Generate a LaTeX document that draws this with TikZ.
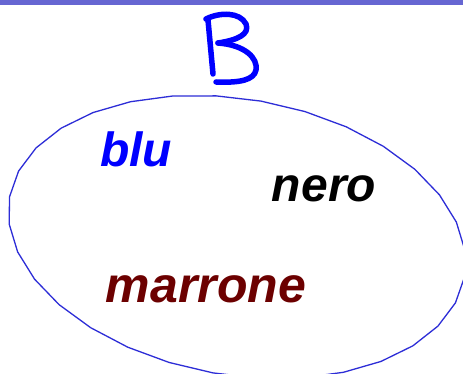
\documentclass[tikz,border=0pt]{standalone}
\usepackage{fontspec}
\setmainfont{Liberation Sans}
\definecolor{barcol}{RGB}{102,102,210}
\definecolor{ellcol}{RGB}{45,45,215}
\definecolor{marcol}{RGB}{108,0,0}
\definecolor{bluecol}{RGB}{0,0,255}
\tikzset{
  word/.style={font=\fontsize{48}{48}\selectfont\bfseries\itshape, inner sep=0pt, anchor=base},
  bstroke/.style={draw=bluecol, line width=5.5pt, line cap=round, line join=round},
  setline/.style={draw=ellcol, line width=1.3pt, line join=round}
}
\begin{document}
\begin{tikzpicture}[x=1pt,y=-1pt]
\useasboundingbox (0,0) rectangle (463,374);
\fill[white] (0,0) rectangle (463,374);
\fill[barcol] (0,0) rectangle (463,5);
% hand-drawn B
\draw[bstroke] (208,20) -- (213,74);
\draw[bstroke] (206,19) .. controls (220,12) and (240,12) .. (246,24)
  .. controls (250,34) and (238,40) .. (218,43);
\draw[bstroke] (218,43) .. controls (245,45) and (258,58) .. (256,70)
  .. controls (254,80) and (240,83) .. (216,82);
% set
\draw[setline] plot[samples=33, domain=0:360, variable=\t]
  ({237 + 231*cos(\t)*cos(10) - 138*sin(\t)*sin(10)},
   {237 + 231*cos(\t)*sin(10) + 138*sin(\t)*cos(10)}) -- cycle;
\node[word, text=bluecol] (blu) at (136,167) {blu};
\node[word, text=black] (nero) at (324,202) {nero};
\node[word, text=marcol, font=\fontsize{50}{50}\selectfont\bfseries\itshape] (marrone) at (206,302) {marrone};
\end{tikzpicture}
\end{document}
